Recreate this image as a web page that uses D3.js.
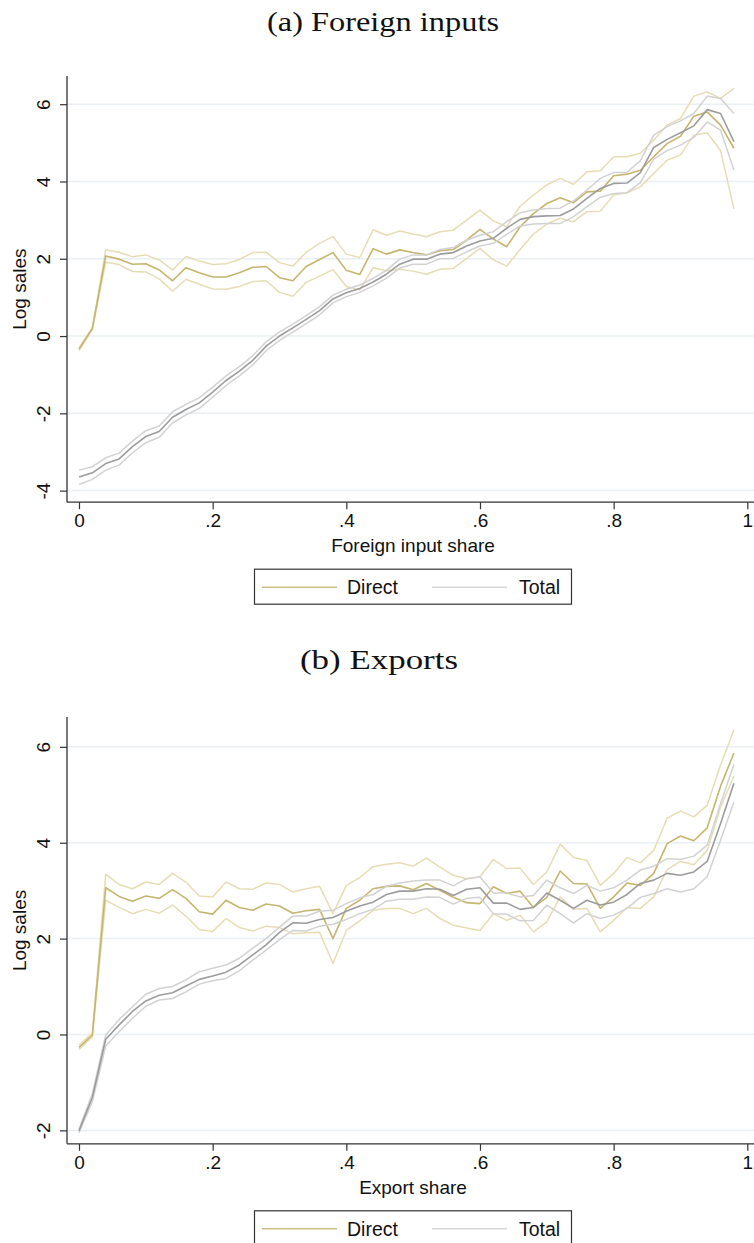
<!DOCTYPE html>
<html>
<head>
<meta charset="utf-8">
<script src="https://cdn.jsdelivr.net/npm/d3@7"></script>
<style>
html,body{margin:0;padding:0;background:#fff;}
svg{display:block;}
</style>
</head>
<body>
<svg id="chart" width="754" height="1243"></svg>
<script>
// ---------- DATA ----------
const shareBins = [0,0.02,0.04,0.06,0.08,0.10,0.12,0.14,0.16,0.18,0.20,0.22,0.24,0.26,0.28,0.30,0.32,0.34,0.36,0.38,0.40,0.42,0.44,0.46,0.48,0.50,0.52,0.54,0.56,0.58,0.60,0.62,0.64,0.66,0.68,0.70,0.72,0.74,0.76,0.78,0.80,0.82,0.84,0.86,0.88,0.90,0.92,0.94,0.96,0.98];
const xTicks = [0,0.2,0.4,0.6,0.8,1];
const xTickLabels = ["0",".2",".4",".6",".8","1"];
const seriesNames = ["Direct","Total"];

// Panel (a) Foreign inputs
const aYTicks = [-4,-2,0,2,4,6];
const aDirect = [-0.34,0.20,2.07,1.99,1.86,1.87,1.71,1.43,1.77,1.64,1.53,1.53,1.64,1.78,1.80,1.51,1.43,1.80,1.98,2.16,1.70,1.59,2.26,2.12,2.23,
  2.16,2.10,2.21,2.24,2.48,2.76,2.51,2.31,2.83,3.17,3.43,3.58,3.45,3.73,3.75,4.15,4.19,4.29,4.64,4.98,5.17,5.69,5.80,5.46,4.86];
const aDirectHi = [-0.30,0.22,2.23,2.17,2.05,2.10,1.97,1.71,2.06,1.94,1.85,1.87,1.98,2.16,2.17,1.90,1.81,2.17,2.40,2.58,2.12,2.03,2.75,2.61,2.72,
  2.64,2.57,2.70,2.74,3.00,3.26,2.98,2.83,3.36,3.65,3.91,4.08,3.93,4.25,4.28,4.64,4.64,4.73,5.07,5.46,5.63,6.21,6.32,6.15,6.41];
const aDirectLo = [-0.38,0.17,1.91,1.85,1.67,1.66,1.48,1.16,1.47,1.34,1.22,1.21,1.28,1.41,1.43,1.13,1.03,1.39,1.55,1.72,1.28,1.19,1.77,1.69,1.73,
  1.68,1.60,1.73,1.75,2.01,2.27,1.97,1.81,2.24,2.64,2.90,3.05,2.96,3.22,3.23,3.65,3.71,3.86,4.21,4.55,4.69,5.20,5.26,4.80,3.29];
const aTotal = [-3.65,-3.54,-3.30,-3.18,-2.86,-2.60,-2.47,-2.10,-1.90,-1.73,-1.45,-1.15,-0.91,-0.63,-0.26,0.00,0.21,0.43,0.66,0.96,1.12,1.23,1.40,1.60,1.86,
  1.99,1.99,2.12,2.16,2.33,2.46,2.53,2.79,3.02,3.09,3.11,3.12,3.29,3.56,3.82,3.95,3.96,4.23,4.88,5.09,5.26,5.44,5.86,5.76,5.03];
const aTotalHi = [-3.47,-3.38,-3.15,-3.03,-2.72,-2.45,-2.33,-1.96,-1.77,-1.60,-1.32,-1.03,-0.79,-0.51,-0.15,0.11,0.31,0.53,0.76,1.06,1.21,1.32,1.49,1.70,1.99,
  2.10,2.10,2.24,2.29,2.48,2.61,2.70,2.96,3.19,3.26,3.30,3.31,3.50,3.78,4.08,4.23,4.24,4.54,5.20,5.42,5.57,5.76,6.21,6.15,5.76];
const aTotalLo = [-3.84,-3.71,-3.47,-3.34,-3.02,-2.76,-2.62,-2.25,-2.04,-1.87,-1.58,-1.28,-1.03,-0.75,-0.38,-0.11,0.10,0.32,0.55,0.86,1.02,1.13,1.30,1.50,1.76,
  1.86,1.86,2.00,2.01,2.18,2.33,2.40,2.63,2.85,2.90,2.91,2.91,3.09,3.35,3.59,3.69,3.71,3.97,4.58,4.80,4.94,5.14,5.54,5.33,4.29];

// Panel (b) Exports
const bYTicks = [-2,0,2,4,6];
const bDirect = [-0.27,-0.01,3.06,2.88,2.78,2.89,2.84,3.02,2.84,2.56,2.51,2.80,2.65,2.59,2.72,2.68,2.53,2.58,2.61,2.00,2.63,2.80,3.04,3.09,3.10,
  3.02,3.15,3.01,2.86,2.75,2.73,3.08,2.94,2.99,2.65,2.86,3.41,3.15,3.14,2.63,2.87,3.16,3.11,3.36,3.98,4.14,4.04,4.31,5.18,5.87];
const bDirectHi = [-0.22,0.03,3.34,3.13,3.04,3.18,3.13,3.36,3.18,2.89,2.87,3.18,3.04,3.03,3.16,3.13,2.97,3.04,3.09,2.52,3.11,3.27,3.50,3.55,3.58,
  3.51,3.68,3.49,3.32,3.25,3.29,3.65,3.46,3.47,3.13,3.39,3.97,3.69,3.63,3.11,3.36,3.69,3.58,3.84,4.51,4.66,4.54,4.78,5.62,6.35];
const bDirectLo = [-0.31,-0.05,2.80,2.65,2.52,2.61,2.53,2.70,2.47,2.19,2.15,2.42,2.23,2.16,2.26,2.23,2.10,2.12,2.13,1.48,2.17,2.37,2.59,2.63,2.63,
  2.52,2.63,2.42,2.28,2.22,2.17,2.52,2.38,2.49,2.14,2.35,2.87,2.61,2.63,2.14,2.38,2.65,2.63,2.87,3.44,3.61,3.54,3.84,4.74,5.39];
const bTotal = [-2.01,-1.31,-0.10,0.20,0.48,0.70,0.82,0.87,1.01,1.15,1.22,1.30,1.45,1.66,1.87,2.13,2.33,2.32,2.40,2.44,2.57,2.68,2.76,2.92,2.99,
  2.99,3.04,3.03,2.90,3.03,3.06,2.74,2.74,2.61,2.65,2.95,2.80,2.63,2.80,2.70,2.76,2.92,3.15,3.22,3.36,3.32,3.39,3.61,4.40,5.24];
const bTotalHi = [-1.97,-1.23,-0.01,0.31,0.58,0.84,0.96,1.00,1.14,1.31,1.38,1.45,1.59,1.80,2.00,2.24,2.47,2.47,2.57,2.59,2.73,2.85,2.92,3.09,3.16,
  3.20,3.22,3.22,3.10,3.25,3.29,2.95,2.95,2.87,2.90,3.22,3.06,2.94,3.11,2.99,3.06,3.22,3.43,3.51,3.67,3.65,3.72,3.95,4.82,5.63];
const bTotalLo = [-2.05,-1.40,-0.24,0.06,0.34,0.59,0.72,0.75,0.89,1.05,1.12,1.17,1.33,1.55,1.76,1.98,2.17,2.16,2.26,2.30,2.40,2.52,2.61,2.78,2.82,
  2.82,2.87,2.86,2.72,2.84,2.86,2.52,2.51,2.37,2.38,2.70,2.52,2.33,2.52,2.42,2.49,2.63,2.86,2.94,3.04,2.97,3.04,3.29,4.05,4.85];

// ---------- STYLE ----------
const C = {
  direct: "#c5b56e", directCI: "#e6ddb4",
  total: "#9c9c9c", totalCI: "#d2d2d2",
  legendDirect: "#cdbf85", legendTotal: "#d6d6d6",
  grid: "#e9eff3", axis: "#333"
};
const sans = "'Liberation Sans', Arial, Helvetica, sans-serif";
const serif = "'Liberation Serif', 'Times New Roman', serif";

const svg = d3.select("#chart");

function drawPanel(p) {
  const g = svg.append("g");
  const x = d3.scaleLinear().domain([0,1]).range([79, 747.3]);
  const y = d3.scaleLinear().domain(p.yDomain).range([p.bottom, p.top]);
  const left = 67, right = 754;

  // title
  g.append("text").attr("x", p.titleX).attr("y", p.titleY)
    .attr("text-anchor","middle").attr("font-family", serif).attr("font-size", 28)
    .attr("textLength", p.titleLen).attr("lengthAdjust","spacingAndGlyphs")
    .attr("fill","#111").text(p.title);

  // gridlines
  g.selectAll(".grid").data(p.yTicks).enter().append("line")
    .attr("x1", left).attr("x2", right)
    .attr("y1", d => y(d)).attr("y2", d => y(d))
    .attr("stroke", C.grid).attr("stroke-width", 1.5);

  // lines
  const line = arr => d3.line().x((d,i) => x(shareBins[i])).y(d => y(d))(arr);
  const series = [
    {v: p.dLo, c: C.directCI, w: 1.5},
    {v: p.dHi, c: C.directCI, w: 1.5},
    {v: p.d,   c: C.direct,   w: 1.6},
    {v: p.tLo, c: C.totalCI,  w: 1.5},
    {v: p.tHi, c: C.totalCI,  w: 1.5},
    {v: p.t,   c: C.total,    w: 1.6}
  ];
  g.selectAll(".series").data(series).enter().append("path")
    .attr("d", s => line(s.v)).attr("fill","none")
    .attr("stroke", s => s.c).attr("stroke-width", s => s.w)
    .attr("stroke-linejoin","round");

  // y axis
  const yAxis = d3.axisLeft(y).tickValues(p.yTicks).tickSize(7).tickSizeOuter(0).tickFormat(d => String(d));
  const ya = g.append("g").attr("transform", `translate(${left},0)`).call(yAxis);
  ya.select(".domain").attr("stroke", C.axis).attr("stroke-width", 1.3)
    .attr("d", `M0,${p.top}V${p.bottom}`);
  ya.selectAll(".tick line").attr("stroke", C.axis).attr("stroke-width", 1.2);
  ya.selectAll(".tick text").attr("font-family", sans).attr("font-size", 19).attr("fill","#111")
    .attr("x", 0).attr("dy", null).attr("dominant-baseline","central")
    .attr("text-anchor","middle")
    .attr("transform", "translate(-24,0) rotate(-90)");

  // x axis
  const xAxis = d3.axisBottom(x).tickValues(xTicks).tickSize(7).tickSizeOuter(0)
    .tickFormat((d,i) => xTickLabels[i]);
  const xa = g.append("g").attr("transform", `translate(0,${p.bottom})`).call(xAxis);
  xa.select(".domain").attr("stroke", C.axis).attr("stroke-width", 1.3)
    .attr("d", `M${left},0H${right}`);
  xa.selectAll(".tick line").attr("stroke", C.axis).attr("stroke-width", 1.2);
  xa.selectAll(".tick text").attr("font-family", sans).attr("font-size", 19).attr("fill","#111")
    .attr("y", 25).attr("dy", null);

  // axis titles
  g.append("text").attr("x", 413).attr("y", p.bottom + 50)
    .attr("text-anchor","middle").attr("font-family", sans).attr("font-size", 19).attr("fill","#111")
    .text(p.xTitle);
  g.append("text").attr("transform", `translate(26,${(p.top+p.bottom)/2}) rotate(-90)`)
    .attr("text-anchor","middle").attr("font-family", sans).attr("font-size", 19).attr("fill","#111")
    .text("Log sales");

  // legend
  const ly = p.bottom + 67;
  const lg = g.append("g");
  lg.append("rect").attr("x", 254.5).attr("y", ly).attr("width", 317).attr("height", 35)
    .attr("fill","#fff").attr("stroke", C.axis).attr("stroke-width", 1.2);
  const cy = ly + 18;
  const items = [
    {name: seriesNames[0], c: C.legendDirect, x1: 262, x2: 337, tx: 347},
    {name: seriesNames[1], c: C.legendTotal,  x1: 432, x2: 507, tx: 519}
  ];
  items.forEach(it => {
    lg.append("line").attr("x1", it.x1).attr("x2", it.x2).attr("y1", cy).attr("y2", cy)
      .attr("stroke", it.c).attr("stroke-width", 1.6);
    lg.append("text").attr("x", it.tx).attr("y", cy).attr("dominant-baseline","central")
      .attr("font-family", sans).attr("font-size", 19.5).attr("fill","#111").text(it.name);
  });
}

drawPanel({
  title: "(a) Foreign inputs", titleX: 383, titleY: 31, titleLen: 232,
  xTitle: "Foreign input share",
  yDomain: [-4.3, 6.73], top: 76, bottom: 502.2, yTicks: aYTicks,
  d: aDirect, dHi: aDirectHi, dLo: aDirectLo, t: aTotal, tHi: aTotalHi, tLo: aTotalLo
});
drawPanel({
  title: "(b) Exports", titleX: 379, titleY: 669, titleLen: 158,
  xTitle: "Export share",
  yDomain: [-2.28, 6.62], top: 717.1, bottom: 1143.8, yTicks: bYTicks,
  d: bDirect, dHi: bDirectHi, dLo: bDirectLo, t: bTotal, tHi: bTotalHi, tLo: bTotalLo
});
</script>
</body>
</html>
